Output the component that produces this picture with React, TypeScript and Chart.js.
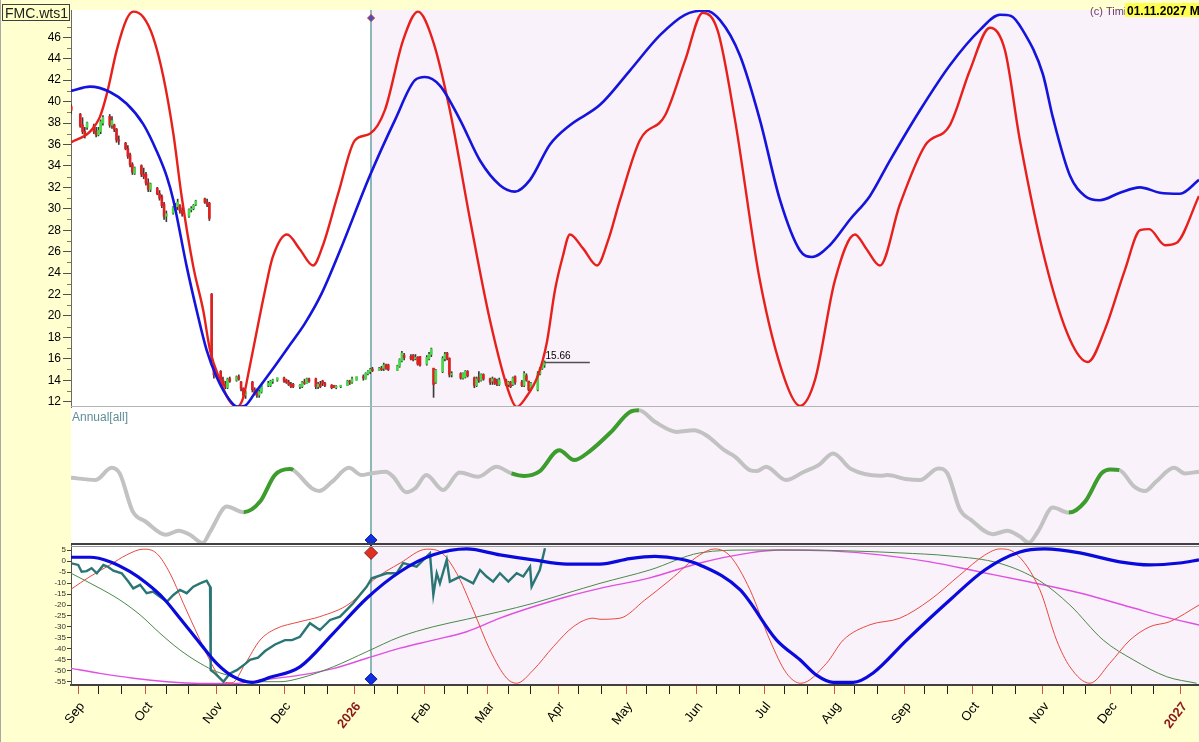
import { useEffect, useRef } from 'react';
import { Chart, registerables } from 'chart.js';
Chart.register(...registerables);

const FONT = "'Liberation Sans', Arial, sans-serif";

// ---------- calendar / axis ----------
const monthStarts = ['2025-09-01','2025-10-01','2025-11-01','2025-12-01','2026-01-01','2026-02-01','2026-03-01','2026-04-01','2026-05-01','2026-06-01','2026-07-01','2026-08-01','2026-09-01','2026-10-01','2026-11-01','2026-12-01','2027-01-01'];
const monthLabels = ['Sep','Oct','Nov','Dec','2026','Feb','Mar','Apr','May','Jun','Jul','Aug','Sep','Oct','Nov','Dec','2027'];
const priceTickLabels = [12,14,16,18,20,22,24,26,28,30,32,34,36,38,40,42,44,46];
const oscTickLabels = [5,0,-5,-10,-15,-20,-25,-30,-35,-40,-45,-50,-55];
const X_MIN = -3.1;
const X_MAX = 495;
const markerDay = 129.4; // vertical "now" line (days since 2025-09-01)
const lastClose = 15.66;

// ---------- top panel: price bars [day, open, high, low, close] ----------
const ohlc: number[][] = [
  [-3,39.5,39.7,38.9,39.2],[1,38.8,38.9,37.6,37.7],[2,37.8,38.5,37.0,37.2],[3,37.2,37.6,36.6,36.9],[4,37.6,38.1,37.4,38.0],
  [7,37.7,37.9,37.0,37.2],[8,37.2,37.6,36.7,36.9],[9,36.9,37.6,36.8,37.3],[10,37.2,38.3,37.0,38.1],[11,38.0,38.7,37.8,38.5],
  [14,38.6,38.8,37.6,37.8],[15,37.8,38.6,37.5,38.2],[16,37.8,37.9,37.2,37.4],[17,37.4,37.5,36.2,36.4],[18,36.4,36.8,36.0,36.3],
  [21,36.1,36.2,35.5,35.6],[22,35.6,35.9,34.7,34.9],[23,35.0,35.2,33.9,34.1],[24,34.1,34.3,33.2,33.4],[25,33.3,33.9,33.2,33.8],
  [28,34.0,34.1,33.0,33.2],[29,33.2,33.8,32.8,33.0],[30,33.2,33.4,32.2,32.4],[31,32.4,32.8,31.6,31.8],[32,31.8,32.4,31.6,32.3],
  [35,31.9,32.0,31.3,31.4],[36,31.4,31.7,30.8,31.0],[37,31.1,31.3,30.1,30.3],[38,30.4,30.6,29.0,29.3],[39,29.3,29.8,28.8,29.5],
  [42,29.6,30.2,29.5,30.1],[43,30.1,30.5,29.8,30.0],[44,30.2,30.9,29.9,30.6],[45,30.3,30.4,29.6,29.8],[46,29.8,30.1,29.3,29.5],
  [49,29.3,30.0,29.2,29.9],[50,29.9,30.2,29.7,30.0],[51,30.0,30.4,29.9,30.3],[52,30.4,30.8,30.3,30.7],
  [56,30.9,31.0,30.5,30.6],[57,30.6,30.9,30.2,30.4],[58,30.5,30.6,28.9,29.1],[59,22.0,22.1,15.5,16.0],[60,15.2,15.4,14.2,14.5],
  [63,14.8,14.9,13.8,14.0],[64,14.0,14.3,13.5,13.6],[65,13.6,13.9,13.2,13.4],[66,13.3,14.2,13.2,14.1],[67,14.1,14.3,13.8,13.9],
  [70,14.0,14.4,13.9,14.3],[71,14.3,14.5,14.0,14.1],[72,13.8,13.9,13.0,13.2],[73,13.2,13.3,12.4,12.6],[74,12.6,13.0,12.3,12.8],
  [77,13.8,13.9,12.9,13.1],[78,13.1,13.3,12.6,12.8],[79,12.8,13.2,12.4,12.6],[80,12.6,13.1,12.4,12.9],[81,12.9,13.6,12.8,13.5],
  [84,13.5,13.9,13.4,13.7],[85,13.5,14.0,13.4,13.9],[86,13.9,14.1,13.7,14.0],[88,14.0,14.2,13.9,14.2],
  [91,14.2,14.3,13.8,13.9],[92,14.0,14.1,13.7,13.8],[93,13.8,14.0,13.5,13.6],[94,13.6,13.8,13.3,13.4],[95,13.6,13.7,13.3,13.4],
  [98,13.4,13.6,13.2,13.5],[99,13.4,13.9,13.3,13.8],[100,13.8,14.1,13.6,13.7],[101,13.7,14.2,13.7,14.1],[102,14.1,14.2,13.8,13.9],
  [105,14.1,14.2,13.2,13.4],[106,13.4,13.8,13.2,13.6],[107,13.6,13.9,13.3,13.4],[108,13.9,14.0,13.5,13.7],[109,13.7,13.8,13.4,13.5],
  [112,13.5,13.6,13.2,13.3],[113,13.5,13.5,13.3,13.3],[114,13.3,13.5,13.2,13.4],[116,13.4,13.5,13.3,13.5],
  [119,13.5,14.0,13.5,13.9],[120,13.9,14.0,13.6,13.8],[121,13.8,14.3,13.7,14.1],[123,14.0,14.3,14.0,14.3],
  [126,14.3,14.5,14.0,14.2],[127,14.1,14.7,14.1,14.6],[128,14.6,14.9,14.5,14.8],[129,14.8,15.1,14.6,15.0],[130,15.0,15.2,14.8,14.9],
  [133,14.9,15.2,14.9,15.1],[134,15.1,15.3,14.9,15.0],[135,15.1,15.6,14.9,15.4],[136,15.4,15.5,15.0,15.1],[137,15.4,15.5,14.9,15.0],
  [141,14.9,15.4,14.9,15.3],[142,15.3,16.0,15.2,15.9],[143,15.8,16.7,15.7,16.5],[144,16.3,16.5,15.9,16.1],
  [147,16.2,16.4,15.9,16.0],[148,16.3,16.4,15.8,15.9],[149,16.0,16.4,15.9,16.1],[150,16.1,16.2,15.4,15.5],[151,16.2,16.2,15.3,15.4],
  [154,15.5,16.3,15.4,16.1],[155,16.0,16.6,15.9,16.4],[156,16.4,17.0,16.2,16.9],[157,15.1,15.1,12.4,13.6],[158,13.8,15.0,13.7,14.9],
  [161,14.8,16.2,14.7,16.0],[162,16.0,16.6,15.8,16.4],[163,16.5,16.6,15.9,16.0],[164,16.0,16.1,14.3,14.5],[165,14.5,14.8,14.3,14.6],
  [169,14.6,14.7,14.1,14.2],[170,14.2,14.7,14.1,14.6],[171,14.3,14.9,14.2,14.8],[172,14.8,14.9,14.3,14.4],
  [175,14.2,14.3,13.3,13.5],[176,13.5,14.3,13.4,14.1],[177,14.2,14.8,13.8,14.0],[178,14.0,14.6,13.9,14.5],[179,14.5,14.6,14.0,14.1],
  [182,14.1,14.2,13.6,13.8],[183,13.9,14.3,13.6,14.1],[184,14.1,14.2,13.6,13.7],[185,13.8,14.1,13.5,13.6],[186,13.6,14.2,13.5,14.0],
  [189,14.0,14.1,13.5,13.6],[190,13.6,13.9,13.4,13.8],[191,13.8,13.9,13.3,13.4],[192,13.6,14.3,13.5,14.2],[193,14.3,14.4,13.6,13.8],
  [196,13.8,14.0,13.4,13.5],[197,13.5,14.8,13.4,14.6],[198,14.4,14.6,13.9,14.0],[199,13.9,13.9,13.0,13.1],[200,13.2,13.8,13.1,13.7],
  [203,13.1,14.8,13.0,14.6],[204,14.6,15.2,14.5,15.1],[205,15.1,15.6,15.0,15.5],[206,15.4,15.8,15.2,15.66],
];

// ---------- top panel: cycle curves [day, value] ----------
const topRed: number[][] = [
  [-3.1,36.2],[5.3,37.2],[9.7,38.6],[12.7,40.7],[17.1,44.8],[21.5,47.7],[24.4,48.4],[28.8,47.9],[33.2,46.0],[37.7,42.3],
  [42.1,37.0],[45.8,31.1],[50.9,24.6],[55.3,20.5],[58.3,16.8],[62.7,14.0],[66.5,12.2],[70.1,11.5],[73,12.4],[75.2,14.6],
  [79.6,19.3],[82.6,22.4],[86,25.5],[92.3,27.6],[98,26.2],[103.8,24.7],[108,26.5],[115,31.5],[122.3,36.4],[128.9,37.0],
  [135.5,39.2],[143.5,45.7],[150.1,48.4],[156.7,45.7],[164.2,39.2],[173.1,29.0],[181.9,19.6],[190.7,12.6],[193.7,11.5],
  [197.5,12.3],[203.2,14.5],[207,17.5],[210.6,22.4],[214,25.5],[217.2,27.6],[223,26.3],[229.2,24.7],[234,27.0],[239.3,30.8],
  [248.1,36.4],[259.2,38.7],[268,43.8],[275.9,48.3],[282.5,46.6],[290.1,38.3],[301.1,23.3],[312.2,14.0],[318.8,11.6],
  [325.4,14.0],[334.2,23.3],[343.1,27.6],[348,26.3],[354.1,24.7],[362.9,30.4],[374,35.9],[385,37.8],[393.8,42.9],[402.7,46.9],
  [409.3,44.8],[415.9,36.4],[427,25.2],[438,17.8],[445.9,15.7],[453.4,18.7],[462.3,24.3],[469,28.0],[473,28.1],[480,26.6],
  [485,26.8],[495,31.2],
];
const topBlue: number[][] = [
  [-3.1,41.0],[5.3,41.4],[14.1,40.9],[21.5,39.8],[28.8,37.9],[34.7,35.4],[39.2,33.0],[42.1,30.8],[48,24.6],[52.4,20.5],
  [56.8,16.8],[61.2,14.3],[67.1,12.1],[70.1,11.55],[73.5,11.6],[78.1,12.8],[85.5,14.9],[92.9,17.1],[100.2,19.3],[107.6,22.1],
  [115.7,26.1],[128.9,33.1],[140,38.3],[148.8,42.0],[153.2,42.3],[159.8,41.5],[168.7,38.3],[177.5,34.5],[186.3,32.2],
  [192.9,31.6],[199.6,32.7],[208.4,36.0],[217.2,37.8],[230.5,39.7],[243.7,42.9],[257,46.2],[268,48.1],[276.8,48.5],
  [283.5,47.6],[292.3,44.3],[301.1,38.3],[310,30.8],[318.8,26.1],[324.1,25.5],[332,26.6],[340.9,29.0],[349.7,31.2],
  [358.5,34.5],[371.8,39.2],[385,43.4],[398.3,46.7],[407.1,48.1],[412,48.0],[417.2,46.65],[426,42.6],[430.5,38.5],
  [438,33.1],[444.6,31.2],[451.2,30.8],[460.1,31.5],[468.9,32.0],[477.7,31.5],[486.6,31.4],[495,32.7],
];

// ---------- middle panel: Annual[all] ----------
const annual: number[][] = [
  [-3.1,65.3],[7.8,63],[14.8,75.2],[18.4,69.6],[24.2,31.4],[29.8,21.5],[38.8,8.2],[44.5,12.2],[49.4,8.2],[55.1,0],
  [58.4,11.5],[65.7,36.4],[73.1,30.8],[80.4,41.4],[86.9,67.9],[93.5,73.9],[95.1,72.9],[103.3,54.7],[106.5,52],[112.2,61.3],
  [119.6,75.2],[125.3,67.9],[129.4,69.6],[135.9,71.3],[139.2,66.3],[144.9,50.7],[148.9,54.7],[153.8,67.9],[161.2,53],
  [168.5,70.6],[176.7,66.3],[184.8,76.2],[191.4,69.6],[197.1,67],[203.6,71.3],[212.5,92.8],[219.1,82.9],[225.6,91.2],
  [235.4,111.1],[243.7,131],[247.7,132.7],[254.9,121],[264.6,111.1],[271.8,112.7],[277.4,107.8],[285.4,92.8],[290.2,86.2],
  [296.6,72.9],[299.8,71.9],[303.8,76.2],[312.6,63],[320.6,71.3],[327,77.9],[333.4,89.5],[341.4,73.9],[354.2,67.3],
  [357.4,67.9],[365.4,64],[371.8,63],[379.9,74.6],[383.9,69.6],[389.5,33.1],[394.3,23.1],[403.9,8.8],[410.3,12.2],
  [415.9,6.5],[419.9,0.5],[423.9,11.5],[430.4,35.4],[437.5,30.4],[444.7,41.4],[451.9,69.6],[455.9,73.6],[459.9,72.9],
  [466.4,56.3],[471.2,52],[476,61.3],[484,75.2],[488.8,69.6],[495,71.3],
];
const annualGreenStart = [73, 191, 437];
const annualGreenEnd = [95.2, 247.8, 460];

// ---------- bottom panel ----------
const oscBlue: number[][] = [
  [-3.1,1.8],[5.3,1.8],[14.1,-0.2],[23,-4.8],[30.3,-10.1],[37.7,-16.9],[45,-26],[53.9,-37.5],[61.2,-46.6],[68.6,-52.7],
  [76.8,-55.3],[84.8,-53],[98,-48.2],[112.7,-32.9],[127.5,-16.9],[142.2,-4.8],[156.9,2.9],[171.6,5.6],[186.3,2.9],
  [201,0.6],[215.8,-1.3],[230.5,-1.3],[243.7,1.2],[254.7,2.2],[265.8,1.0],[274.6,-1.7],[292.3,-13],[308.5,-36],
  [318.8,-45],[326.1,-52],[333.5,-55.3],[342.3,-55.3],[351.1,-51],[365.9,-36],[385,-17.7],[400.4,-4],[415.9,4.2],
  [426.9,5.6],[442.4,3.8],[460,-0.3],[473.3,-1.7],[486.5,-0.8],[495,0.6],
];
const oscRed: number[][] = [
  [-3.1,-12.8],[5.3,-7],[14.1,-1.7],[21.5,2.9],[28.8,5.5],[34.7,3.6],[40.6,-5.5],[46.5,-19.2],[53.9,-36],[59.7,-48.2],
  [64.2,-55],[68,-55.5],[73.7,-47],[80.4,-36],[87,-31],[98,-27.6],[106.8,-25.3],[120.1,-19.2],[130.4,-8.6],[142.2,-0.9],
  [154,5.5],[159.8,4.4],[167.2,-5.5],[174.5,-22.3],[181.9,-40.5],[189.3,-53.4],[193.7,-55.7],[201,-49.7],[209.9,-39],
  [218.7,-29.9],[227.5,-26],[230.5,-26.5],[239.3,-26],[250.3,-17.7],[261.4,-8.6],[274.6,2.9],[281.2,5.6],[287.9,2.4],
  [296.7,-13],[305.5,-36],[312.9,-51.2],[319.2,-55.7],[330.5,-46.6],[337.9,-36],[349.7,-29],[362.9,-26],[376.2,-17.7],
  [389.4,-6.3],[400.4,2.8],[407.1,5.6],[413.7,3.8],[424.7,-13],[432.1,-36],[438,-48.2],[446.8,-55.7],[455.6,-46.6],
  [464.5,-36],[473.3,-29.9],[482.1,-27.6],[495,-20],
];
const oscGreen: number[][] = [
  [-3.1,-5.5],[9.7,-12.4],[18.5,-17.7],[27.4,-24.5],[36.2,-32.9],[45,-40.5],[53.9,-46.6],[61.2,-50.4],[68.6,-52.7],
  [78.1,-55],[89.2,-55],[98,-53.4],[112.7,-48.2],[127.5,-41.3],[142.2,-34.5],[156.9,-29.9],[171.6,-26.5],[186.3,-23],
  [201,-19.2],[215.8,-14.6],[230.5,-10.1],[252.5,-4],[274.6,3.8],[296.7,5.1],[318.8,5.1],[340.8,4.7],[362.9,3.8],
  [385,2.4],[407.1,-1],[424.7,-9],[438,-20],[452.7,-36],[466,-45],[480.7,-52.7],[493.9,-55.7],
];
const oscMagenta: number[][] = [
  [-3.1,-48.9],[9.7,-51.2],[24.4,-53.4],[39.2,-55],[53.9,-55.8],[68.4,-55.8],[83,-54],[98,-52],[112.7,-49],[127.5,-44.3],
  [142.2,-39.7],[156.9,-36],[171.6,-32.2],[186.3,-26],[201,-20.8],[215.8,-16.2],[230.5,-12.4],[252.5,-7.6],[274.6,-0.8],
  [296.7,3.8],[310,5.1],[332,4.7],[354.1,2.9],[376.2,-0.3],[398.3,-4.9],[420.3,-9.5],[442.4,-14.5],[464.5,-20.9],
  [482.1,-26],[495,-29.1],
];
const oscPrice: number[][] = [
  [-2.8,-1],[0.1,-1.7],[1.6,-4.8],[3.8,-4.5],[6,-3.2],[8.3,-5.5],[11.2,-1.7],[13.2,-2.5],[15.6,-4.3],[19.3,-5.5],
  [22.2,-9.3],[24.4,-12.4],[27.4,-10.8],[30.3,-14.6],[33.2,-13.9],[36.2,-16.2],[39.2,-18.5],[42.1,-15.4],[45,-13.1],
  [48,-14.6],[50.9,-11.6],[53.9,-10.1],[56.8,-8.9],[58.3,-11.6],[58.6,-49.7],[60.5,-51.2],[64.2,-55],[67.1,-51.2],
  [70.1,-49.7],[73.7,-47],[75.9,-45],[79.5,-44],[82.6,-41],[87,-38],[91.4,-36],[94.5,-36],[98,-34.5],[102.4,-28.3],
  [106.8,-31.4],[111.3,-26.8],[115.7,-25.3],[121.5,-19.2],[127.5,-11.6],[129.7,-7.8],[136.3,-5.5],[140.7,-5.5],
  [143.6,-0.9],[149.5,-2.5],[155.4,3.6],[156.9,-15.4],[158.4,-5.5],[159.8,-10.1],[162.8,0.6],[164.2,-9.3],[168.7,-7],
  [174.5,-10.1],[177.5,-4],[180.4,-7],[183.3,-9.3],[186.3,-5.5],[190,-9.3],[193.7,-5.5],[196.6,-7],[199.6,-2.5],
  [200.3,-11.6],[203.9,-4],[206.2,5.9],
];

// ---------- helpers ----------
const dayOf = (s: string) => (Date.parse(s + 'T00:00:00Z') - Date.parse('2025-09-01T00:00:00Z')) / 86400000;
const monthStartDays = monthStarts.map(dayOf);
const xTickDays: number[] = [];
monthStartDays.forEach((d) => {
  [d, d + 9, d + 19].forEach((t) => { if (t >= X_MIN && t <= X_MAX) xTickDays.push(t); });
});
const pts = (a: number[][]) => a.map(([x, y]) => ({ x, y }));
const inGreen = (x: number) => annualGreenStart.some((s, i) => x >= s - 0.01 && x <= annualGreenEnd[i] + 0.01);
const isYear = (s: string) => /^\d{4}$/.test(s);

const decor = {
  id: 'decor',
  beforeDraw(chart: any) {
    const { ctx, chartArea: ca, scales } = chart;
    ctx.save();
    ctx.fillStyle = '#FFFFD0';
    ctx.fillRect(0, 0, chart.width, chart.height);
    const xv = scales.x.getPixelForValue(markerDay);
    ctx.fillStyle = '#FFFFFF';
    ctx.fillRect(ca.left, ca.top, xv - ca.left, ca.bottom - ca.top);
    ctx.fillStyle = '#F9F2FA';
    ctx.fillRect(xv, ca.top, ca.right - xv, ca.bottom - ca.top);
    ctx.fillStyle = '#A8A8A8';
    ctx.fillRect(0, 0, 1, chart.height);
    ctx.restore();
  },
  beforeDatasetsDraw(chart: any) {
    const { ctx, chartArea: ca, scales } = chart;
    const xv = Math.round(scales.x.getPixelForValue(markerDay));
    ctx.save();
    ctx.strokeStyle = '#8CB8B8';
    ctx.lineWidth = 2;
    ctx.beginPath();
    ctx.moveTo(xv, ca.top);
    ctx.lineTo(xv, ca.bottom);
    ctx.stroke();
    ctx.restore();
  },
  afterDatasetsDraw(chart: any) {
    const { ctx, chartArea: ca, scales } = chart;
    const yTop = scales.yTop, yMid = scales.yMid, yBot = scales.yBot;
    ctx.save();
    ctx.fillStyle = '#B4B4B4';
    ctx.fillRect(ca.left, Math.round(yTop.bottom) - 1, ca.right - ca.left, 1);
    ctx.fillStyle = '#404040';
    ctx.fillRect(ca.left, Math.round(yMid.bottom) - 2, ca.right - ca.left, 2);
    ctx.fillStyle = '#9A9A9A';
    ctx.fillRect(ca.left, Math.round(yBot.top) + 1, ca.right - ca.left, 1);
    // minor ticks on the price axis
    ctx.strokeStyle = '#8A7458';
    ctx.lineWidth = 1;
    for (let v = 13; v <= 47; v += 2) {
      const y = Math.round(yTop.getPixelForValue(v)) + 0.5;
      ctx.beginPath();
      ctx.moveTo(ca.left - 4, y);
      ctx.lineTo(ca.left, y);
      ctx.stroke();
    }
    ctx.restore();
  },
  afterDraw(chart: any) {
    const { ctx, chartArea: ca, scales } = chart;
    ctx.save();
    // rotated month labels of the date axis
    monthStartDays.forEach((d, i) => {
      const label = monthLabels[i];
      const px = scales.x.getPixelForValue(d);
      ctx.save();
      ctx.translate(px + 4, ca.bottom + 19);
      ctx.rotate((-52 * Math.PI) / 180);
      ctx.textAlign = 'right';
      ctx.textBaseline = 'middle';
      ctx.font = `${isYear(label) ? 'bold ' : ''}13px ${FONT}`;
      ctx.fillStyle = isYear(label) ? '#8B1A1A' : '#000000';
      ctx.fillText(label, 0, 0);
      ctx.restore();
    });

    ctx.font = `12px ${FONT}`;
    ctx.fillStyle = '#5E8E98';
    ctx.textBaseline = 'middle';
    ctx.textAlign = 'left';
    ctx.fillText('Annual[all]', ca.left + 1, scales.yMid.top + 11);

    ctx.textBaseline = 'alphabetic';
    ctx.font = `10px ${FONT}`;
    ctx.fillStyle = '#000000';
    ctx.fillText(lastClose.toFixed(2), scales.x.getPixelForValue(206) + 1, scales.yTop.getPixelForValue(lastClose) - 3);

    // title box
    ctx.fillStyle = '#FFFFC8';
    ctx.fillRect(2, 4, 68, 16);
    ctx.strokeStyle = '#404040';
    ctx.lineWidth = 1;
    ctx.strokeRect(2.5, 4.5, 67, 16);
    ctx.font = `14px ${FONT}`;
    ctx.fillStyle = '#202020';
    ctx.fillText('FMC.wts1', 5, 18);

    // copyright + date
    ctx.font = `11px ${FONT}`;
    ctx.fillStyle = '#6A3A6A';
    ctx.fillText('(c) Timir', 1090, 15);
    ctx.fillStyle = '#FFFF50';
    ctx.fillRect(1125, 3, 74, 14);
    ctx.font = `bold 12px ${FONT}`;
    ctx.fillStyle = '#000000';
    ctx.fillText('01.11.2027 MC', 1127, 15);
    ctx.restore();
  },
};

export default function App() {
  const ref = useRef<HTMLCanvasElement>(null);
  useEffect(() => {
    const red = '#E8201C';
    const wick = ohlc.map((r) => ({ x: r[0], y: [r[3], r[2]] }));
    const body = ohlc.map((r) => ({ x: r[0], y: [Math.min(r[1], r[4]), Math.max(r[1], r[4]) + 0.03] }));
    const bodyColors = ohlc.map((r) => (r[4] >= r[1] ? '#48D848' : '#E02020'));
    const line = (data: number[][], color: string, width: number, yAxisID: string, extra: any = {}) => ({
      type: 'line', data: pts(data), borderColor: color, borderWidth: width, pointRadius: 0,
      cubicInterpolationMode: 'monotone', yAxisID, xAxisID: 'x', ...extra,
    });
    const diamond = (y: number, yAxisID: string, r: number, fill: string, stroke: string) => ({
      type: 'scatter', data: [{ x: markerDay, y }], yAxisID, xAxisID: 'x', pointStyle: 'rectRot',
      pointRadius: r, backgroundColor: fill, borderColor: stroke, borderWidth: 1, clip: false,
    });
    const yWidth = (s: any) => { s.width = 71; };

    const chart = new Chart(ref.current as HTMLCanvasElement, {
      type: 'line',
      data: {
        datasets: [
          diamond(47.8, 'yTop', 3.5, '#4050C0', '#D03030'),
          diamond(3, 'yMid', 6, '#1030E0', '#1020A0'),
          diamond(3.8, 'yBot', 6.5, '#E03020', '#802020'),
          diamond(-53.8, 'yBot', 6, '#1030E0', '#1020A0'),
          line(topBlue, '#1414DC', 2.6, 'yTop'),
          line(topRed, red, 2.4, 'yTop'),
          line([[206, lastClose], [226, lastClose]], '#505050', 1.5, 'yTop', { cubicInterpolationMode: 'default', tension: 0 }),
          { type: 'bar', data: body, backgroundColor: bodyColors, barThickness: 2, grouped: false, yAxisID: 'yTop', xAxisID: 'x', borderWidth: 0 },
          { type: 'bar', data: wick, backgroundColor: '#3A3A3A', barThickness: 1, grouped: false, yAxisID: 'yTop', xAxisID: 'x', borderWidth: 0 },
          line(annual, '#C2C2C2', 4, 'yMid', {
            segment: { borderColor: (c: any) => (inGreen(c.p0.parsed.x) && inGreen(c.p1.parsed.x) ? '#3C9C2C' : '#C2C2C2') },
          }),
          line(oscBlue, '#0A0ADC', 3.2, 'yBot'),
          line(oscPrice, '#2A7674', 2.4, 'yBot', { cubicInterpolationMode: 'default', tension: 0 }),
          line(oscRed, '#E84A40', 1, 'yBot'),
          line(oscGreen, '#4A8A4A', 1, 'yBot'),
          line(oscMagenta, '#E050E0', 1.4, 'yBot'),
        ] as any,
      },
      options: {
        responsive: false,
        devicePixelRatio: 1,
        animation: false,
        events: [],
        layout: { autoPadding: false, padding: { top: 10, left: 0, right: 0, bottom: 0 } },
        plugins: { legend: { display: false }, tooltip: { enabled: false } },
        scales: {
          x: {
            type: 'linear', position: 'bottom', min: X_MIN, max: X_MAX, offset: false,
            afterFit: (s: any) => { s.height = 57; },
            afterBuildTicks: (s: any) => { s.ticks = xTickDays.map((v) => ({ value: v })); },
            grid: {
              drawOnChartArea: false, drawTicks: true, tickLength: 9, offset: false,
              tickColor: (c: any) => (c.tick && monthStartDays.includes(c.tick.value) ? '#D05050' : '#202020'),
              color: (c: any) => (c.tick && monthStartDays.includes(c.tick.value) ? '#D05050' : '#202020'),
            },
            border: { display: true, color: '#404040', width: 2 },
            ticks: { display: false },
          },
          yTop: {
            type: 'linear', position: 'left', stack: 'panes', stackWeight: 397, weight: 3,
            min: 11.5, max: 48.55, afterFit: yWidth,
            afterBuildTicks: (s: any) => { s.ticks = priceTickLabels.map((v) => ({ value: v })); },
            grid: { drawOnChartArea: false, drawTicks: true, tickLength: 8, color: '#505050' },
            border: { display: true, color: '#6A6A6A', width: 1 },
            ticks: { autoSkip: false, padding: 2, color: '#000000', font: { family: FONT, size: 12 } },
          },
          yMid: {
            type: 'linear', position: 'left', stack: 'panes', stackWeight: 138, weight: 2,
            min: -2, max: 136, afterFit: yWidth,
            grid: { display: false }, border: { display: false }, ticks: { display: false },
          },
          yBot: {
            type: 'linear', position: 'left', stack: 'panes', stackWeight: 140, weight: 1,
            min: -56.5, max: 7.4, afterFit: yWidth,
            afterBuildTicks: (s: any) => { s.ticks = oscTickLabels.map((v) => ({ value: v })); },
            grid: { drawOnChartArea: false, drawTicks: true, tickLength: 4, color: '#404040' },
            border: { display: true, color: '#505050', width: 1 },
            ticks: { autoSkip: false, padding: 1, color: '#303030', font: { family: FONT, size: 8 } },
          },
        },
      } as any,
      plugins: [decor],
    });
    return () => chart.destroy();
  }, []);
  return (
    <div style={{ position: 'absolute', left: 0, top: 0, width: 1199, height: 742 }}>
      <canvas ref={ref} width={1199} height={742} style={{ display: 'block' }} />
    </div>
  );
}
